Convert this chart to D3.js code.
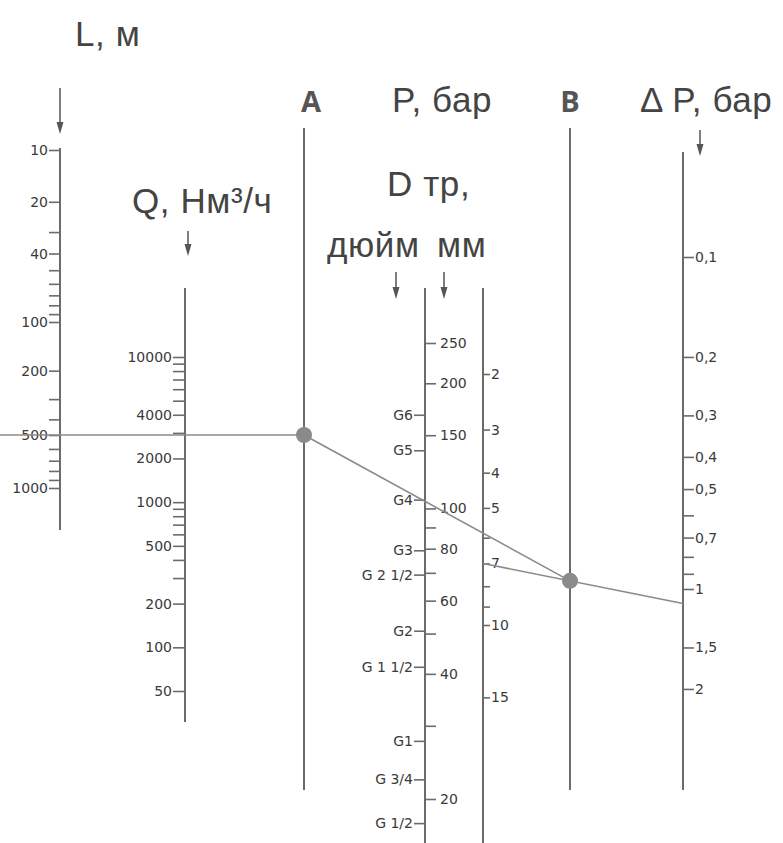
<!DOCTYPE html>
<html>
<head>
<meta charset="utf-8">
<script src="https://cdn.jsdelivr.net/npm/d3@7"></script>
<style>
  body { margin: 0; background: #fff; }
  svg { display: block; }
</style>
</head>
<body>
<div id="chart"></div>
<script>
// L, м  (pipe length)
const lengthLabels = [10, 20, 40, 100, 200, 500, 1000];
const lengthMinor = [30, 50, 60, 70, 80, 90, 300, 400, 600, 700, 800, 900];

// Q, Нм3/ч  (flow)
const flowLabels = [50, 100, 200, 500, 1000, 2000, 4000, 10000];
const flowMinor = [300, 400, 600, 700, 800, 900, 3000, 5000, 6000, 7000, 8000, 9000];

// D тр, мм
const mmLabels = [20, 40, 60, 80, 100, 150, 200, 250];
const mmMinor = [30, 50, 70, 90];
// D тр, дюйм  (name + equivalent bore in mm)
const inchNames = ["G 1/2", "G 3/4", "G1", "G 1 1/2", "G2", "G 2 1/2", "G3", "G4", "G5", "G6"];
const inchMm = [17.5, 22.3, 27.6, 41.6, 50.8, 69.3, 79.3, 105, 138, 168];

// P, бар
const pressureLabels = [2, 3, 4, 5, 7, 10, 15];
const pressureMinor = [6, 8, 9];

// ΔP, бар
const dropLabels = [0.1, 0.2, 0.3, 0.4, 0.5, 0.7, 1, 1.5, 2];
const dropMinor = [0.6, 0.8, 0.9];

// worked example drawn on the nomogram
const exampleLength = 500;
const exampleDiameter = 104;
const examplePressure = 7;

const width = 783, height = 843;
const axisColor = "#6b6b6b", textColor = "#444";

// axis positions
const xL = 60, xQ = 185, xA = 304, xD = 425, xP = 483, xB = 570, xDP = 683;

// scales
const yL = d3.scaleLog().domain([10, 100, 500, 1000]).range([150, 322, 435, 488]);
const yQ = d3.scaleLog().domain([50, 10000]).range([691, 357]);
const yMm = d3.scaleLog().domain([20, 250]).range([799, 343]);
const yAbs = d3.scaleLog().domain([3, 11]).range([374, 625]); // absolute pressure
const yP = p => yAbs(p + 1);
const yDP = d3.scaleLog().domain([0.1, 1]).range([257, 589]);

const comma = d => String(d).replace(".", ",");

const svg = d3.select("#chart").append("svg")
    .attr("width", width)
    .attr("height", height);

// vertical lines
const lines = [
    [xL, 148, 530], [xQ, 288, 722], [xA, 128, 790], [xD, 288, height],
    [xP, 288, height], [xB, 128, 790], [xDP, 152, 790]
];
svg.append("g")
    .selectAll("line")
    .data(lines)
    .join("line")
        .attr("x1", d => d[0]).attr("x2", d => d[0])
        .attr("y1", d => d[1]).attr("y2", d => d[2])
        .attr("stroke", axisColor)
        .attr("stroke-width", 2);

// draws ticks with d3 axis, no domain path
function ticks(axisFn, x, values, size, fmt, pad) {
    const g = svg.append("g")
        .attr("transform", `translate(${x},0)`)
        .call(axisFn.tickValues(values).tickSize(size).tickSizeOuter(0)
            .tickPadding(pad).tickFormat(fmt));
    g.select(".domain").remove();
    g.attr("font-family", "'DejaVu Sans', sans-serif")
        .attr("font-size", 14);
    g.selectAll(".tick line").attr("stroke", axisColor).attr("stroke-width", 1.6);
    g.selectAll(".tick text").attr("fill", "#3a3a3a");
    return g;
}

ticks(d3.axisLeft(yL), xL, lengthLabels, 11, d => d, 1);
ticks(d3.axisLeft(yL), xL, lengthMinor, 11, () => "", 1);

ticks(d3.axisLeft(yQ), xQ, flowLabels, 12, d => d, 1);
ticks(d3.axisLeft(yQ), xQ, flowMinor, 12, () => "", 1);

ticks(d3.axisRight(yMm), xD, mmLabels, 11, d => d, 4);
ticks(d3.axisRight(yMm), xD, mmMinor, 11, () => "", 4);
ticks(d3.axisLeft(yMm), xD, inchMm, 11, (d, i) => inchNames[i], 1);

ticks(d3.axisRight(d3.scaleIdentity()), xP, pressureLabels.map(yP), 7,
    (d, i) => pressureLabels[i], 1);
ticks(d3.axisRight(d3.scaleIdentity()), xP, pressureMinor.map(yP), 7, () => "", 1);

ticks(d3.axisRight(yDP), xDP, dropLabels, 11, comma, 1);
ticks(d3.axisRight(yDP), xDP, dropMinor, 11, () => "", 1);

// down arrows above the scales
const arrows = [[xL, 88, 134], [188, 231, 256], [396, 272, 299], [444, 272, 299], [700, 130, 156]];
const ag = svg.append("g").attr("fill", "#555").attr("stroke", "#555");
arrows.forEach(([x, y1, y2]) => {
    ag.append("line").attr("x1", x).attr("x2", x).attr("y1", y1).attr("y2", y2 - 8)
        .attr("stroke-width", 1.5);
    ag.append("path").attr("stroke", "none")
        .attr("d", `M${x - 3.5},${y2 - 12}L${x + 3.5},${y2 - 12}L${x},${y2}Z`);
});

// headers
const headers = [
    {t: "L, м", x: 75, y: 46},
    {t: "Q, Нм³/ч", x: 132, y: 213},
    {t: "P, бар", x: 392, y: 112},
    {t: "Δ P, бар", x: 640, y: 112},
    {t: "D тр,", x: 387, y: 196},
    {t: "дюйм", x: 327, y: 257},
    {t: "мм", x: 437, y: 257}
];
svg.append("g")
    .attr("font-family", "'Liberation Sans', Arial, sans-serif")
    .attr("font-size", 35)
    .attr("letter-spacing", 0.6)
    .attr("fill", textColor)
    .selectAll("text")
    .data(headers)
    .join("text")
        .attr("x", d => d.x)
        .attr("y", d => d.y)
        .text(d => d.t);

svg.append("g")
    .attr("font-family", "'Open Sans', sans-serif")
    .attr("font-weight", "bold")
    .attr("font-size", 29)
    .attr("text-anchor", "middle")
    .attr("fill", "#555")
    .selectAll("text")
    .data([{t: "A", x: xA + 7}, {t: "B", x: xB}])
    .join("text")
        .attr("x", d => d.x)
        .attr("y", 112)
        .text(d => d.t);

// worked example: L -> A, A through D to B, P through B to ΔP
const A = {x: xA, y: yL(exampleLength)};
const Dp = {x: xD, y: yMm(exampleDiameter)};
const B = {x: xB, y: A.y + (Dp.y - A.y) * (xB - xA) / (xD - xA)};
const Pp = {x: xP, y: yP(examplePressure)};
const E = {x: xDP, y: Pp.y + (B.y - Pp.y) * (xDP - xP) / (xB - xP)};

const cg = svg.append("g")
    .attr("stroke", "#8a8a8a")
    .attr("stroke-width", 1.6)
    .attr("fill", "none");
cg.append("line").attr("x1", 0).attr("y1", A.y).attr("x2", A.x).attr("y2", A.y);
cg.append("line").attr("x1", A.x).attr("y1", A.y).attr("x2", B.x).attr("y2", B.y);
cg.append("line").attr("x1", Pp.x).attr("y1", Pp.y).attr("x2", E.x).attr("y2", E.y);

svg.append("g")
    .selectAll("circle")
    .data([A, B])
    .join("circle")
        .attr("cx", d => d.x)
        .attr("cy", d => d.y)
        .attr("r", 8)
        .attr("fill", "#8a8a8a");
</script>
</body>
</html>
